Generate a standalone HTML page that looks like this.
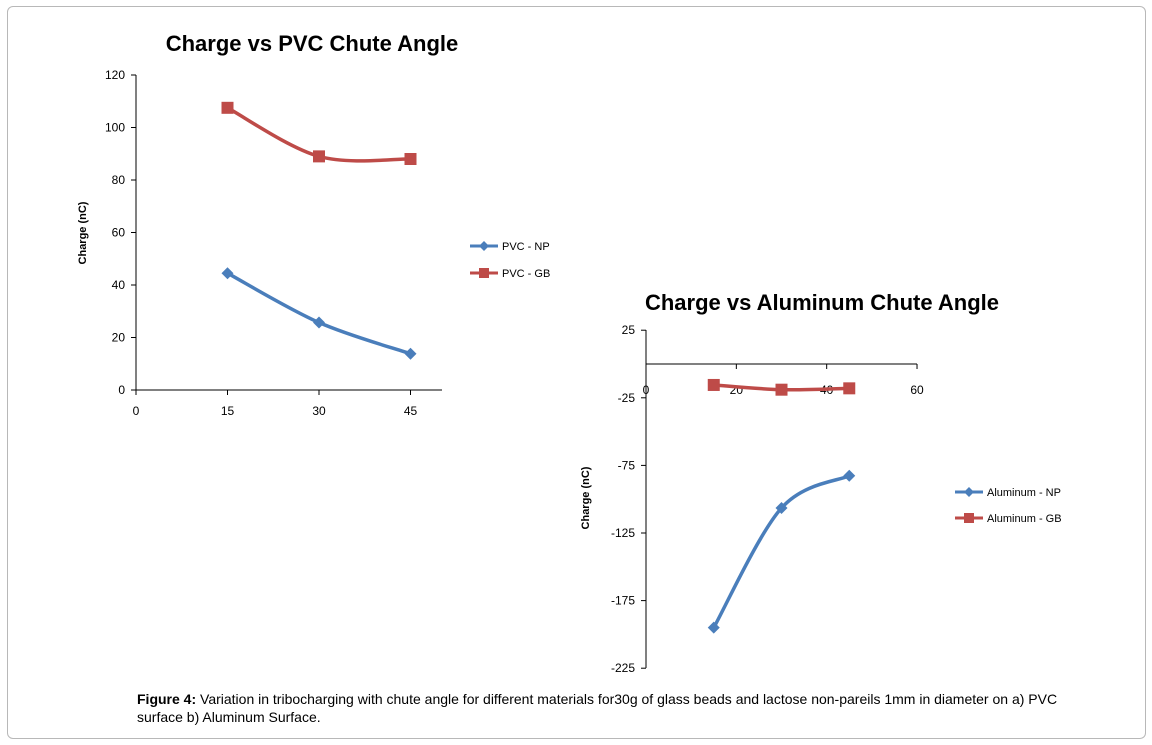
<!DOCTYPE html>
<html><head><meta charset="utf-8"><style>
body{margin:0;width:1152px;height:745px;background:#fff;overflow:hidden;font-family:"Liberation Sans",sans-serif}
#frame{position:absolute;left:7px;top:6px;width:1137px;height:731px;border:1px solid #b8b8b8;border-radius:6px}
#cap{position:absolute;left:137px;top:690px;width:960px;font-size:14px;line-height:18px;color:#000}
</style></head><body>
<div id="frame"></div>
<svg id="chart" width="1152" height="745" style="position:absolute;left:0;top:0"></svg>
<div id="cap"><b>Figure 4:</b> Variation in tribocharging with chute angle for different materials for30g of glass beads and lactose non-pareils 1mm in diameter on a) PVC surface b) Aluminum Surface.</div>
<script>
const angles=[15,30,45];
const pvcNP=[44.5,25.7,13.8];
const pvcGB=[107.5,89,88];
const alNP=[-195,-106.5,-82.7];
const alGB=[-15.5,-19,-18];
const pvcYTicks=[0,20,40,60,80,100,120];
const pvcXTicks=[0,15,30,45];
const alYTicks=[25,-25,-75,-125,-175,-225];
const alXTicks=[0,20,40,60];
const NS='http://www.w3.org/2000/svg';
const svg=document.getElementById('chart');
function mk(t,a,parent){const e=document.createElementNS(NS,t);for(const k in a)e.setAttribute(k,a[k]);(parent||svg).appendChild(e);return e;}
function txt(x,y,s,size,anchor,weight){const t=mk('text',{x:x,y:y,'font-size':size,'text-anchor':anchor||'middle','font-family':'Liberation Sans, sans-serif','font-weight':weight||'normal',fill:'#000'});t.textContent=s;return t;}
function smooth(pts){let d='M'+pts[0][0]+','+pts[0][1];for(let i=0;i<pts.length-1;i++){const p0=pts[i-1]||pts[i],p1=pts[i],p2=pts[i+1],p3=pts[i+2]||p2;const t=1/6;d+=' C'+(p1[0]+(p2[0]-p0[0])*t)+','+(p1[1]+(p2[1]-p0[1])*t)+' '+(p2[0]-(p3[0]-p1[0])*t)+','+(p2[1]-(p3[1]-p1[1])*t)+' '+p2[0]+','+p2[1];}return d;}
function series(xs,ys,X,Y,color,marker,name){
  const pts=xs.map((v,i)=>[X(v),Y(ys[i])]);
  const p=mk('path',{d:smooth(pts),fill:'none',stroke:color,'stroke-width':3.5});
  
  
  pts.forEach(q=>{let m;
    if(marker==='sq')m=mk('rect',{x:q[0]-6,y:q[1]-6,width:12,height:12,fill:color});
    else m=mk('path',{d:`M${q[0]},${q[1]-6}L${q[0]+6},${q[1]}L${q[0]},${q[1]+6}L${q[0]-6},${q[1]}Z`,fill:color});
    
    
  });
}
function legend(x,y,color,marker,label,name){
  const g=mk('g',{});
  
  
  mk('line',{x1:x,y1:y,x2:x+28,y2:y,stroke:color,'stroke-width':3},g);
  if(marker==='sq')mk('rect',{x:x+9,y:y-5,width:10,height:10,fill:color},g);
  else mk('path',{d:`M${x+14},${y-5}L${x+19},${y}L${x+14},${y+5}L${x+9},${y}Z`,fill:color},g);
  const t=txt(x+32,y+4,label,11,'start');g.appendChild(t);
}
const BLUE='#4a7ebb',RED='#be4b48';
// PVC chart
{const X=v=>136+v*6.1,Y=v=>390-v*2.625;
 txt(312,51,'Charge vs PVC Chute Angle',22,'middle','bold');
 mk('line',{x1:136,y1:75,x2:136,y2:390,stroke:'#000'});
 mk('line',{x1:136,y1:390,x2:442,y2:390,stroke:'#000'});
 pvcYTicks.forEach(v=>{mk('line',{x1:131,y1:Y(v),x2:136,y2:Y(v),stroke:'#000'});txt(125,Y(v)+4,String(v),12,'end');});
 pvcXTicks.forEach(v=>{mk('line',{x1:X(v),y1:390,x2:X(v),y2:395,stroke:'#000'});txt(X(v),415,String(v),12);});
 const yl=txt(0,0,'Charge (nC)',11,'middle','bold');yl.setAttribute('transform','translate(86,233) rotate(-90)');
 series(angles,pvcGB,X,Y,RED,'sq','pvc-gb');
 series(angles,pvcNP,X,Y,BLUE,'di','pvc-np');
 legend(470,246,BLUE,'di','PVC - NP','legend-pvc-np');
 legend(470,273,RED,'sq','PVC - GB','legend-pvc-gb');
}
// Aluminum chart
{const X=v=>646+v*4.517,Y=v=>364-v*1.352;
 txt(822,310,'Charge vs Aluminum Chute Angle',22,'middle','bold');
 mk('line',{x1:646,y1:330,x2:646,y2:668,stroke:'#000'});
 mk('line',{x1:646,y1:364,x2:917,y2:364,stroke:'#000'});
 alYTicks.forEach(v=>{mk('line',{x1:641,y1:Y(v),x2:646,y2:Y(v),stroke:'#000'});txt(635,Y(v)+4,String(v),12,'end');});
 alXTicks.forEach(v=>{mk('line',{x1:X(v),y1:364,x2:X(v),y2:369,stroke:'#000'});txt(X(v),394,String(v),12);});
 const yl=txt(0,0,'Charge (nC)',11,'middle','bold');yl.setAttribute('transform','translate(589,498) rotate(-90)');
 series(angles,alGB,X,Y,RED,'sq','al-gb');
 series(angles,alNP,X,Y,BLUE,'di','al-np');
 legend(955,492,BLUE,'di','Aluminum - NP','legend-al-np');
 legend(955,518,RED,'sq','Aluminum - GB','legend-al-gb');
}
</script>
</body></html>
